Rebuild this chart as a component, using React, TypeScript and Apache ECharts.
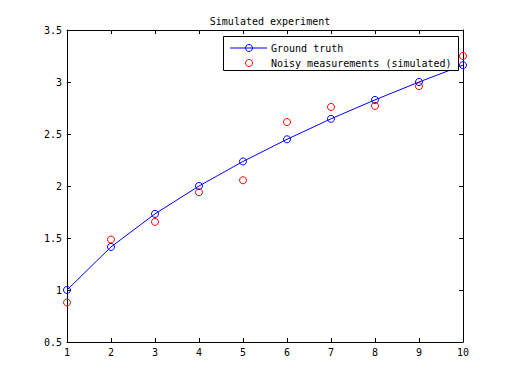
import React, { useEffect, useRef } from "react";
import * as echarts from "echarts";

const xValues = [1, 2, 3, 4, 5, 6, 7, 8, 9, 10];
const groundTruth = [1, 1.414, 1.732, 2, 2.236, 2.449, 2.646, 2.828, 3, 3.162];
const noisy = [0.88, 1.485, 1.655, 1.94, 2.055, 2.615, 2.76, 2.77, 2.96, 3.25];
const seriesNames = ["Ground truth", "Noisy measurements (simulated)"];
const titleText = "Simulated experiment";

const FONT = "DejaVu Sans Mono";

export default function App() {
  const ref = useRef<HTMLDivElement>(null);
  useEffect(() => {
    if (!ref.current) return;
    const chart = echarts.init(ref.current, undefined, { renderer: "svg" });
    const axisCommon = {
      type: "value" as const,
      axisLine: { show: true, onZero: false, lineStyle: { color: "#000", width: 1 } },
      axisTick: { show: true, inside: true, length: 4, lineStyle: { color: "#000" } },
      splitLine: { show: false },
    };
    chart.setOption({
      animation: false,
      backgroundColor: "#fff",
      title: {
        text: titleText,
        left: 265,
        textAlign: "center",
        top: 11,
        textStyle: { fontFamily: FONT, fontSize: 10, fontWeight: "normal", color: "#000" },
      },
      grid: { left: 67, right: 49, top: 30, bottom: 42 },
      xAxis: [
        {
          ...axisCommon,
          position: "bottom",
          min: 1,
          max: 10,
          interval: 1,
          axisLabel: { color: "#000", fontFamily: FONT, fontSize: 10, margin: 5 },
        },
        {
          ...axisCommon,
          position: "top",
          min: 1,
          max: 10,
          interval: 1,
          axisLabel: { show: false },
        },
      ],
      yAxis: [
        {
          ...axisCommon,
          position: "left",
          min: 0.5,
          max: 3.5,
          interval: 0.5,
          axisLabel: { color: "#000", fontFamily: FONT, fontSize: 10, margin: 5 },
        },
        {
          ...axisCommon,
          position: "right",
          min: 0.5,
          max: 3.5,
          interval: 0.5,
          axisLabel: { show: false },
        },
      ],
      series: [
        {
          name: seriesNames[0],
          type: "line",
          data: xValues.map((x, i) => [x, groundTruth[i]]),
          symbol: "circle",
          symbolSize: 7,
          showAllSymbol: true,
          clip: false,
          lineStyle: { color: "#0000ff", width: 1 },
          itemStyle: { color: "rgba(255,255,255,0)", borderColor: "#0000ff", borderWidth: 1, opacity: 1 },
          emphasis: { disabled: true },
        },
        {
          name: seriesNames[1],
          type: "scatter",
          data: xValues.map((x, i) => [x, noisy[i]]),
          symbol: "circle",
          symbolSize: 7,
          clip: false,
          itemStyle: { color: "rgba(255,255,255,0)", borderColor: "#ff0000", borderWidth: 1, opacity: 1 },
          emphasis: { disabled: true },
        },
      ],
      graphic: [
        {
          type: "rect",
          shape: { x: 223.5, y: 36.5, width: 235, height: 34 },
          style: { fill: "#fff", stroke: "#000", lineWidth: 1 },
          z: 100,
        },
        {
          type: "line",
          shape: { x1: 230, y1: 48, x2: 267, y2: 48 },
          style: { stroke: "#0000ff", lineWidth: 1 },
          z: 101,
        },
        {
          type: "circle",
          shape: { cx: 249, cy: 48, r: 3.5 },
          style: { fill: "none", stroke: "#0000ff", lineWidth: 1 },
          z: 102,
        },
        {
          type: "text",
          x: 271,
          y: 48,
          style: {
            text: seriesNames[0],
            fontFamily: FONT,
            fontSize: 10,
            fill: "#000",
            verticalAlign: "middle",
            align: "left",
          },
          z: 102,
        },
        {
          type: "circle",
          shape: { cx: 249, cy: 63, r: 3.5 },
          style: { fill: "none", stroke: "#ff0000", lineWidth: 1 },
          z: 102,
        },
        {
          type: "text",
          x: 271,
          y: 63,
          style: {
            text: seriesNames[1],
            fontFamily: FONT,
            fontSize: 10,
            fill: "#000",
            verticalAlign: "middle",
            align: "left",
          },
          z: 102,
        },
      ],
    });
    return () => chart.dispose();
  }, []);
  return (
    <div
      ref={ref}
      style={{ position: "absolute", left: 0, top: 0, width: 512, height: 384, background: "#fff" }}
    />
  );
}
